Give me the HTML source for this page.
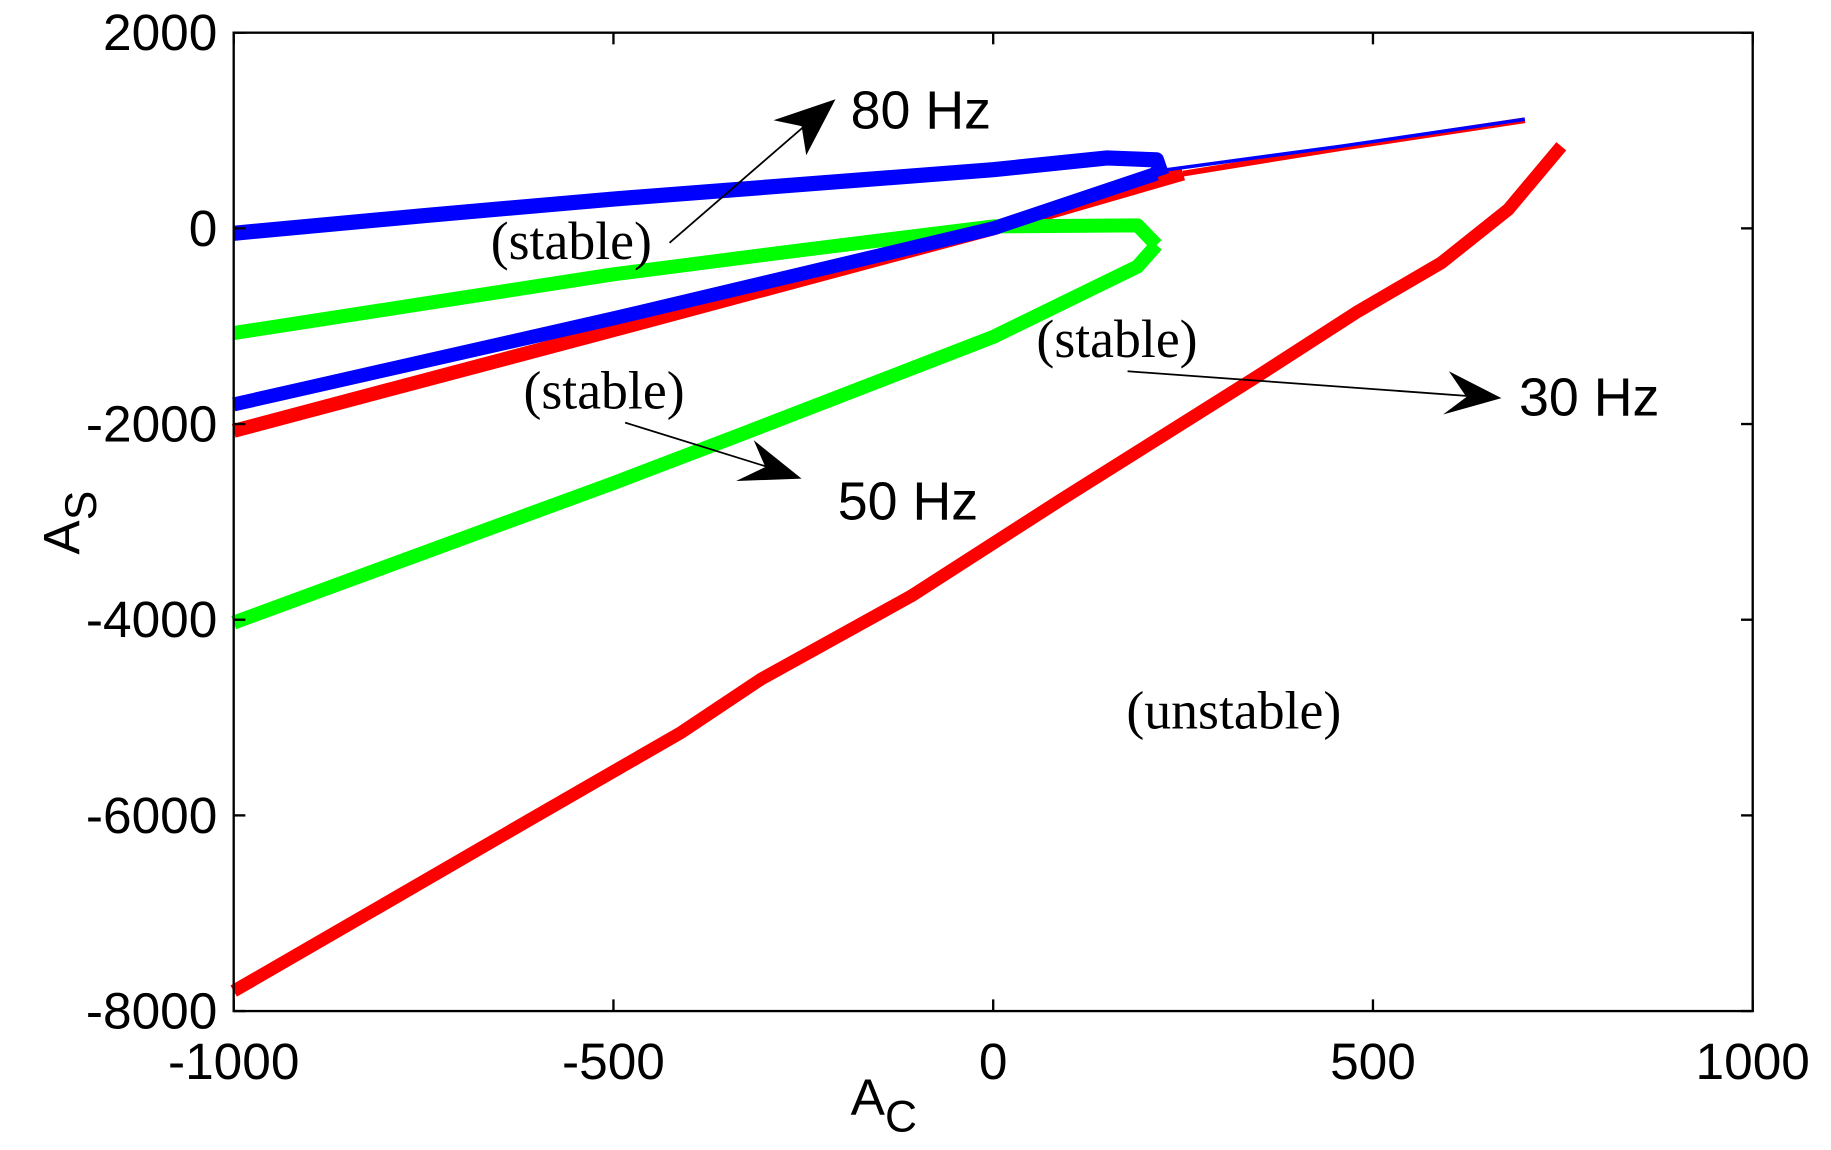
<!DOCTYPE html>
<html><head><meta charset="utf-8"><style>
html,body{margin:0;padding:0;background:#fff;}
svg{display:block;}
</style></head><body>
<svg id="chart" width="1831" height="1150" viewBox="0 0 1567 985" preserveAspectRatio="none" xmlns="http://www.w3.org/2000/svg" font-family="'Liberation Sans', sans-serif">
<g id="series"></g>
<rect x="200" y="28" width="1300" height="838" fill="none" stroke="#000" stroke-width="2"/>
<g id="axes"></g>
<g font-family="'Liberation Serif', serif" font-size="46" fill="#000">
<text x="728" y="110" font-family="'Liberation Sans', sans-serif" font-size="46">80 Hz</text>
<text x="420" y="222">(stable)</text>
<line x1="573" y1="208" x2="700" y2="98" stroke="#000" stroke-width="1.5"/>
<polygon points="715,85 662,103 686,108 690,133" fill="#000"/>
<text x="448" y="350">(stable)</text>
<line x1="535" y1="362" x2="670" y2="404" stroke="#000" stroke-width="1.5"/>
<polygon points="686,410 645,377 655,400 630,412" fill="#000"/>
<text x="717" y="445" font-family="'Liberation Sans', sans-serif" font-size="46">50 Hz</text>
<text x="887" y="306">(stable)</text>
<line x1="965" y1="318" x2="1268" y2="340" stroke="#000" stroke-width="1.5"/>
<polygon points="1285,341 1240,318 1255,340 1235,355" fill="#000"/>
<text x="1300" y="356" font-family="'Liberation Sans', sans-serif" font-size="46">30 Hz</text>
<text x="964" y="624">(unstable)</text>
</g>
<text x="728" y="955" font-size="44">A<tspan font-size="38" dy="14">C</tspan></text>
<text transform="translate(68,475) rotate(-90)" font-size="44">A<tspan font-size="38" dy="14">S</tspan></text>
</svg>
<script>
const xTicks = [-1000, -500, 0, 500, 1000];
const yTicks = [2000, 0, -2000, -4000, -6000, -8000];
const red30Lower = [[-1000,-7796],[-806,-6925],[-609,-6039],[-411,-5153],[-306,-4609],[-108,-3758],[90,-2770],[348,-1511],[480,-850],[590,-352],[678,192],[748,839]];
const red30Upper = [[250,560],[0,0],[-500,-1040],[-1000,-2070]];
const red30Thin = [[700,1105],[458,822],[250,560]];
const blue80Upper = [[-1000,-50],[-750,130],[-500,300],[0,600],[150,720],[215,700],[222,540]];
const blue80Lower = [[215,560],[0,0],[-500,-920],[-1000,-1800]];
const blue80Thin = [[700,1115],[458,840],[220,590]];
const green50Upper = [[-1000,-1070],[-750,-770],[-500,-470],[-250,-220],[0,20],[190,30],[215,-170]];
const green50Lower = [[215,-170],[190,-390],[0,-1110],[-332,-2106],[-500,-2604],[-648,-3025],[-1000,-4030]];

function xs(v){return 200 + (v + 1000) * 0.65;}
function ys(v){return 28 + (2000 - v) * 0.0838;}
const NS = 'http://www.w3.org/2000/svg';
const series = document.getElementById('series');
const axes = document.getElementById('axes');
function drawLine(pts, color, name, w){
  const p = document.createElementNS(NS, 'polyline');
  p.setAttribute('points', pts.map(d => xs(d[0]) + ',' + ys(d[1])).join(' '));
  p.setAttribute('fill', 'none');
  p.setAttribute('stroke', color);
  p.setAttribute('stroke-width', w);
  p.setAttribute('stroke-linejoin', 'round');
  
  
  series.appendChild(p);
}
drawLine(red30Lower, '#ff0000', 'series-30hz-lower', 11);
drawLine(red30Upper, '#ff0000', 'series-30hz-upper', 12);
drawLine(red30Thin, '#ff0000', 'series-30hz-tip', 5);
drawLine(green50Upper, '#00ff00', 'series-50hz-upper', 12);
drawLine(green50Lower, '#00ff00', 'series-50hz-lower', 12);
drawLine(blue80Upper, '#0000ff', 'series-80hz-upper', 13);
drawLine(blue80Lower, '#0000ff', 'series-80hz-lower', 12);
drawLine(blue80Thin, '#0000ff', 'series-80hz-tip', 3);

xTicks.forEach(t => {
  const x = xs(t);
  [[866, 856], [28, 38]].forEach(a => {
    const l = document.createElementNS(NS, 'line');
    l.setAttribute('x1', x); l.setAttribute('x2', x);
    l.setAttribute('y1', a[0]); l.setAttribute('y2', a[1]);
    l.setAttribute('stroke', '#000'); l.setAttribute('stroke-width', '2');
    
    
    axes.appendChild(l);
  });
  const tx = document.createElementNS(NS, 'text');
  tx.setAttribute('x', x); tx.setAttribute('y', 924);
  tx.setAttribute('text-anchor', 'middle'); tx.setAttribute('font-size', '44');
  tx.textContent = String(t);
  
  
  axes.appendChild(tx);
});
yTicks.forEach(t => {
  const y = ys(t);
  [[200, 210], [1500, 1490]].forEach(a => {
    const l = document.createElementNS(NS, 'line');
    l.setAttribute('x1', a[0]); l.setAttribute('x2', a[1]);
    l.setAttribute('y1', y); l.setAttribute('y2', y);
    l.setAttribute('stroke', '#000'); l.setAttribute('stroke-width', '2');
    
    
    axes.appendChild(l);
  });
  const tx = document.createElementNS(NS, 'text');
  tx.setAttribute('x', 186); tx.setAttribute('y', y + 15);
  tx.setAttribute('text-anchor', 'end'); tx.setAttribute('font-size', '44');
  tx.textContent = String(t);
  
  
  axes.appendChild(tx);
});
</script>
</body></html>
